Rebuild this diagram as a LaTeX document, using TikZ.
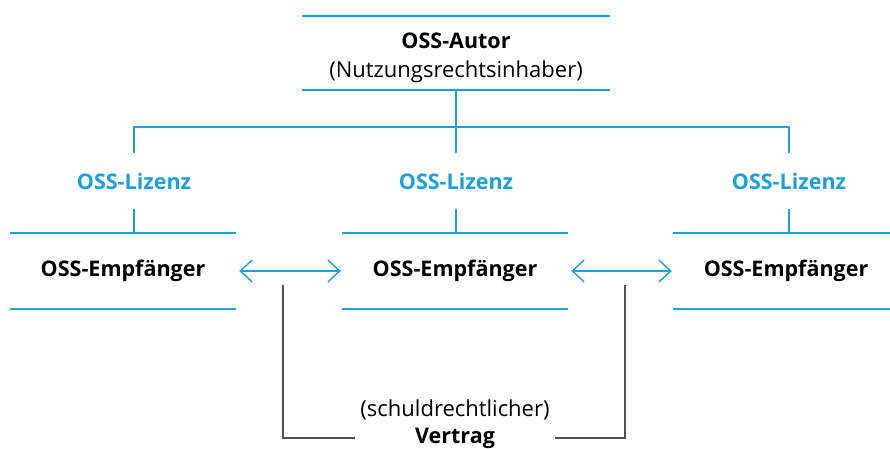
\documentclass[tikz,border=0pt]{standalone}
\usepackage{fontspec}
\setmainfont{Open Sans}
\usetikzlibrary{arrows.meta}
\definecolor{ossblue}{RGB}{27,160,222}
\definecolor{bracketgray}{RGB}{80,80,80}
\tikzset{
  txt/.style={font=\fontsize{22}{29}\selectfont, inner sep=0pt, align=center},
  party/.style={txt, minimum width=226pt, minimum height=74pt},
  licence/.style={txt, text=ossblue, font=\fontsize{21.5}{29}\selectfont\bfseries, minimum height=55pt},
  rulethick/.style={draw=ossblue, line width=2.6pt},
  rulethin/.style={draw=ossblue, line width=1.6pt},
  link/.style={draw=ossblue, line width=1.7pt},
  mutual/.style={draw=ossblue, line width=1.2pt, {Straight Barb[length=12pt,width=22pt,line width=1.4pt]}-{Straight Barb[length=12pt,width=22pt,line width=1.4pt]}},
  contract/.style={draw=bracketgray, line width=1.3pt}
}
\begin{document}
\begin{tikzpicture}[x=1pt,y=-1pt]
\useasboundingbox (0,0) rectangle (890,449);

% author box
\node[txt, minimum width=307pt, minimum height=74pt] (autor) at (456,58)
  {\fontsize{21.5}{29}\selectfont\textbf{OSS-Autor}\\(Nutzungsrechtsinhaber)};
\coordinate (atop) at (456,16);
\coordinate (abot) at (456,90);
\draw[rulethick] (autor.west |- atop) -- (autor.east |- atop);
\draw[rulethin] (autor.west |- abot) -- (autor.east |- abot);

% licences
\node[licence] (lizL) at (134,181) {OSS-Lizenz};
\node[licence] (lizM) at (456,181) {OSS-Lizenz};
\node[licence] (lizR) at (789,181) {OSS-Lizenz};
\coordinate (bus) at (456,127);

% receivers
\node[party] (empL) at (123,271) {\fontsize{21.5}{29}\selectfont\textbf{OSS-Empfänger}};
\node[party] (empM) at (455,271) {\fontsize{21.5}{29}\selectfont\textbf{OSS-Empfänger}};
\node[party] (empR) at (786,271) {\fontsize{21.5}{29}\selectfont\textbf{OSS-Empfänger}};
\foreach \n in {empL,empM,empR}{
  \draw[rulethick] ([yshift=1pt]\n.north west) -- ([yshift=1pt]\n.north east);
  \draw[rulethin] ([yshift=-1pt]\n.south west) -- ([yshift=-1pt]\n.south east);
}

% distribution tree
\draw[link] (abot) -- (bus);
\draw[link] (lizL.north) -- (lizL.north |- bus) -- (lizR.north |- bus) -- (lizR.north);
\draw[link] (lizM.north) -- (lizM.north |- bus);
\draw[link] (lizL.south) -- ([yshift=1pt]lizL.south |- empL.north);
\draw[link] (lizM.south) -- ([yshift=1pt]lizM.south |- empM.north);
\draw[link] (lizR.south) -- ([yshift=1pt]lizR.south |- empR.north);

% mutual relations
\draw[mutual] ([xshift=3pt]empL.east) -- ([xshift=-1pt]empM.west);
\draw[mutual] ([xshift=3pt]empM.east) -- ([xshift=-1pt]empR.west);

% contract
\node[txt] (schuld) at (455,410) {(schuldrechtlicher)};
\node[txt, font=\fontsize{21.5}{29}\selectfont\bfseries, minimum width=200pt] (vertrag) at (455,438) {Vertrag};
\coordinate (cL) at (283,285);
\coordinate (cR) at (625,285);
\draw[contract] (cL) |- (vertrag.west);
\draw[contract] (cR) |- (vertrag.east);
\end{tikzpicture}
\end{document}
